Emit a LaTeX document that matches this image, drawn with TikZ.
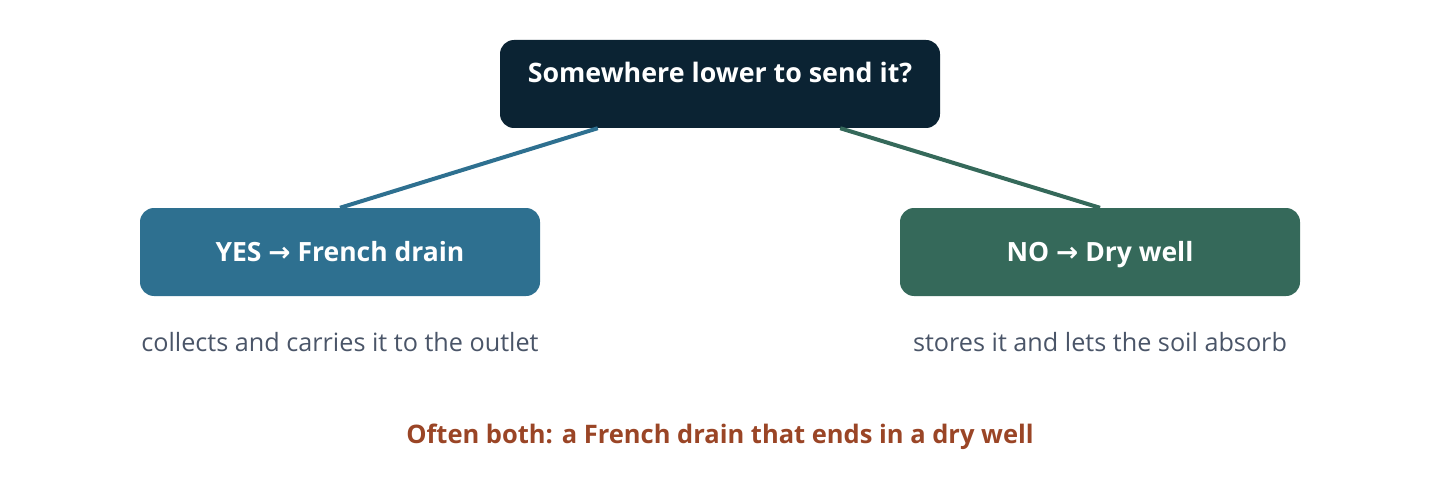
\documentclass[tikz,border=0pt]{standalone}
\usepackage{fontspec}
\setmainfont{Open Sans}
\newfontfamily\arr{DejaVu Sans}
\usetikzlibrary{calc}
\definecolor{navy}{HTML}{0B2333}
\definecolor{yesblue}{HTML}{2E7090}
\definecolor{nogreen}{HTML}{35695A}
\definecolor{subgray}{HTML}{4A5568}
\definecolor{rust}{HTML}{9A4526}
\tikzset{
  box/.style={rounded corners=14pt, minimum width=400pt, minimum height=88pt, inner sep=0pt},
  boxtext/.style={text=white, font=\fontsize{26.5}{30}\selectfont\bfseries, inner sep=0pt, anchor=base},
  subtext/.style={text=subgray, font=\fontsize{25.2}{30}\selectfont, inner sep=0pt, anchor=base},
  link/.style={line width=4pt},
}
\begin{document}
\begin{tikzpicture}[x=1pt,y=-1pt]
\useasboundingbox (0,0) rectangle (1440,500);
\node[box, fill=navy, minimum width=440pt] (qbox) at (720,84) {};
\node[boxtext, font=\fontsize{26.8}{30}\selectfont\bfseries] (q) at (720,82.5) {Somewhere lower to send it?};
\node[box, fill=yesblue] (yes) at (340,252) {};
\node[boxtext] (yest) at (340,261.5) {YES {\arr\bfseries →} French drain};
\node[box, fill=nogreen] (no) at (1100,252) {};
\node[boxtext] (not) at (1100,261.5) {NO {\arr\bfseries →} Dry well};
\draw[link, yesblue] ($(qbox.south west)+(98,0)$) -- (yes.north);
\draw[link, nogreen] ($(qbox.south east)+(-100,0)$) -- (no.north);
\node[subtext] (yessub) at (340,351.5) {collects and carries it to the outlet};
\node[subtext] (nosub) at (1100,351.5) {stores it and lets the soil absorb};
\node[text=rust, font=\fontsize{25.5}{30}\selectfont\bfseries, inner sep=0pt, anchor=base] (both) at (720,443.3) {Often both: a French drain that ends in a dry well};
\end{tikzpicture}
\end{document}
